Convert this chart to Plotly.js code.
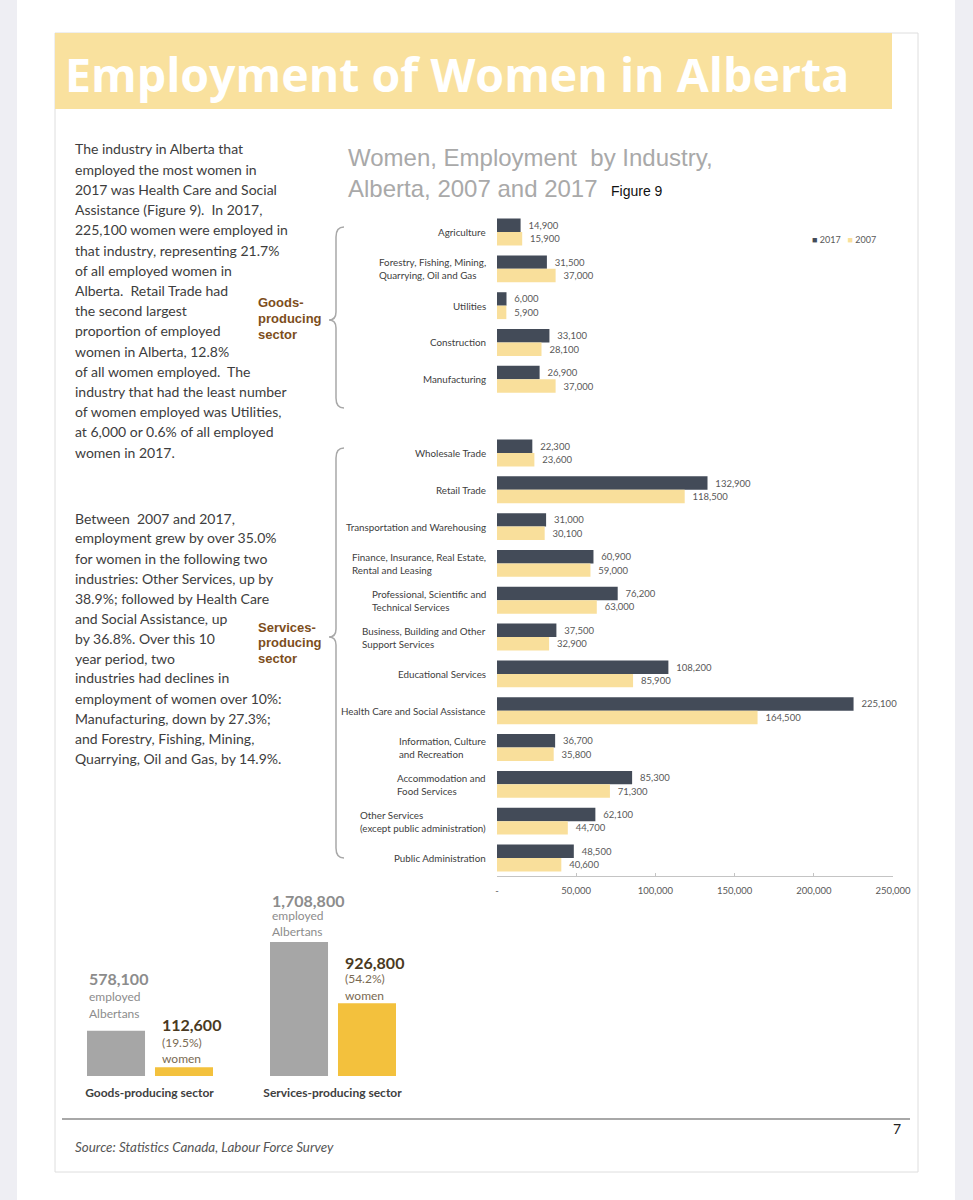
<!DOCTYPE html>
<html><head><meta charset="utf-8">
<script src="https://cdn.plot.ly/plotly-3.0.1.min.js"></script>
<style>html,body{margin:0;padding:0;background:#fff;} #chart{width:973px;height:1200px;}</style>
</head><body><div id="chart"></div>
<script>
// ---------- data ----------
const goodsIndustries = ["Agriculture", "Forestry, Fishing, Mining,<br>Quarrying, Oil and Gas", "Utilities", "Construction", "Manufacturing"];
const servicesIndustries = ["Wholesale Trade", "Retail Trade", "Transportation and Warehousing",
  "Finance, Insurance, Real Estate,<br>Rental and Leasing", "Professional, Scientific and<br>Technical Services",
  "Business, Building and Other<br>Support Services", "Educational Services", "Health Care and Social Assistance",
  "Information, Culture<br>and Recreation", "Accommodation and<br>Food Services",
  "Other Services<br>(except public administration)", "Public Administration"];
const women2017 = [14900, 31500, 6000, 33100, 26900, 22300, 132900, 31000, 60900, 76200, 37500, 108200, 225100, 36700, 85300, 62100, 48500];
const women2007 = [15900, 37000, 5900, 28100, 37000, 23600, 118500, 30100, 59000, 63000, 32900, 85900, 164500, 35800, 71300, 44700, 40600];
const seriesNames = ["2017", "2007"];
const xTickVals = [0, 50000, 100000, 150000, 200000, 250000];
const xTickText = ["-", "50,000", "100,000", "150,000", "200,000", "250,000"];

const sectors = ["Goods-producing sector", "Services-producing sector"];
const employedAll = [578100, 1708800];
const employedWomen = [112600, 926800];
const womenShare = ["19.5%", "54.2%"];

const pageTitle = "Employment of Women in Alberta";
const chartTitleLines = ["Women, Employment  by Industry,", "Alberta, 2007 and 2017"];
const figureLabel = "Figure 9";
const sectorLabels = [["Goods-", "producing", "sector"], ["Services-", "producing", "sector"]];
const para1 = ["The industry in Alberta that", "employed the most women in", "2017 was Health Care and Social",
  "Assistance (Figure 9).  In 2017,", "225,100 women were employed in", "that industry, representing 21.7%",
  "of all employed women in", "Alberta.  Retail Trade had", "the second largest", "proportion of employed",
  "women in Alberta, 12.8%", "of all women employed.  The", "industry that had the least number",
  "of women employed was Utilities,", "at 6,000 or 0.6% of all employed", "women in 2017."];
const para2 = ["Between  2007 and 2017,", "employment grew by over 35.0%", "for women in the following two",
  "industries: Other Services, up by", "38.9%; followed by Health Care", "and Social Assistance, up",
  "by 36.8%. Over this 10", "year period, two", "industries had declines in",
  "employment of women over 10%:", "Manufacturing, down by 27.3%;", "and Forestry, Fishing, Mining,",
  "Quarrying, Oil and Gas, by 14.9%."];
const sourceText = "Source: Statistics Canada, Labour Force Survey";
const pageNumber = "7";

// ---------- helpers ----------
const W = 973, H = 1200;
const px = x => x / W;
const py = y => 1 - y / H;
const industries = goodsIndustries.concat(servicesIndustries);
const spacer = "\u00a0";
const categoryOrder = goodsIndustries.concat([spacer], servicesIndustries);
const fmt = v => v.toLocaleString("en-US");

const DARK = "#434b58", LIGHT = "#f9df9b";
const GRAY_BAR = "#a6a6a6", GOLD_BAR = "#f3c13d";

const traces = [
  {type: "bar", orientation: "h", name: seriesNames[0], y: industries, x: women2017,
   marker: {color: DARK}, xaxis: "x", yaxis: "y",
   texttemplate: "\u00a0\u00a0%{x:,}", textposition: "outside", constraintext: "none", cliponaxis: false,
   textfont: {family: "Lato", size: 9.5, color: "#595959"}, hoverinfo: "none"},
  {type: "bar", orientation: "h", name: seriesNames[1], y: industries, x: women2007,
   marker: {color: LIGHT}, xaxis: "x", yaxis: "y",
   texttemplate: "\u00a0\u00a0%{x:,}", textposition: "outside", constraintext: "none", cliponaxis: false,
   textfont: {family: "Lato", size: 9.5, color: "#595959"}, hoverinfo: "none"},
  {type: "bar", name: "employed Albertans", x: sectors, y: employedAll, xaxis: "x2", yaxis: "y2",
   marker: {color: GRAY_BAR}, width: 0.317, offset: -0.3415, hoverinfo: "none"},
  {type: "bar", name: "women", x: sectors, y: employedWomen, xaxis: "x2", yaxis: "y2",
   marker: {color: GOLD_BAR}, width: 0.317, offset: 0.030, hoverinfo: "none"}
];

const annotations = [];
function addText(text, x, y, opts) {
  annotations.push(Object.assign({text: text, x: px(x), y: py(y), xref: "paper", yref: "paper",
    xanchor: "left", yanchor: "middle", showarrow: false,
    font: {family: "Lato", size: 14, color: "#3d3d3d"}}, opts || {}));
}

// page title
addText("<b>" + pageTitle + "</b>", 63, 74, {font: {family: "Open Sans", size: 46.5, color: "#ffffff"}});
// chart title
chartTitleLines.forEach((t, i) => addText(t, 346, 157 + i * 31, {font: {family: "Liberation Sans", size: 24, color: "#a9a9a9"}}));
addText(figureLabel, 609, 191, {font: {family: "Liberation Sans", size: 14, color: "#111111"}});
// body text
para1.forEach((t, i) => addText(t, 73, 149 + i * 20.2));
para2.forEach((t, i) => addText(t, 73, 518 + i * 20));
// sector labels
const sectorLabelY = [303, 627];
sectorLabels.forEach((lines, s) => lines.forEach((t, i) =>
  addText("<b>" + t + "</b>", 256, sectorLabelY[s] + i * 15.5, {font: {family: "Liberation Sans", size: 13, color: "#7d4e1c"}})));
// legend
addText('<span style="color:' + DARK + '">\u25A0</span>\u00a0' + seriesNames[0] +
  '\u00a0\u00a0\u00a0<span style="color:' + LIGHT + '">\u25A0</span>\u00a0' + seriesNames[1],
  810, 240, {font: {family: "Lato", size: 9, color: "#595959"}});
// industry labels (left aligned blocks, right edge at axis)
industries.forEach(name => annotations.push({text: name, x: 0, y: name, xref: "x", yref: "y",
  xanchor: "right", yanchor: "middle", xshift: -9, align: "left", showarrow: false,
  font: {family: "Lato", size: 9.8, color: "#404040"}}));
// bottom chart labels
const allShifts = [[52, 34, 17], [42, 27, 11]];
const womenShifts = [[43, 25, 9], [41, 25, 8]];
sectors.forEach((sec, i) => {
  const allLines = ["<b>" + fmt(employedAll[i]) + "</b>", "employed", "Albertans"];
  allLines.forEach((t, k) => annotations.push({text: t, x: sec, y: employedAll[i], xref: "x2", yref: "y2",
    xanchor: "left", yanchor: "middle", xshift: -63, yshift: allShifts[i][k], showarrow: false,
    font: {family: "Lato", size: k === 0 ? 16 : 12, color: "#8c8c8c"}}));
  const wLines = ["<b>" + fmt(employedWomen[i]) + "</b>", "(" + womenShare[i] + ")", "women"];
  wLines.forEach((t, k) => annotations.push({text: t, x: sec, y: employedWomen[i], xref: "x2", yref: "y2",
    xanchor: "left", yanchor: "middle", xshift: 10, yshift: womenShifts[i][k], showarrow: false,
    font: {family: "Lato", size: k === 0 ? 16 : 12, color: k === 0 ? "#4a3a22" : "#7a6a52"}}));
});
// footer
addText("<i>" + sourceText + "</i>", 73, 1147, {font: {family: "Lato", size: 13.4, color: "#555555"}});
addText(pageNumber, 903, 1128, {xanchor: "right", font: {family: "Lato", size: 14, color: "#222222"}});

function bracePath(xLine, xTip, xEnd, yTop, yMid, yBot) {
  const P = (x, y) => px(x).toFixed(5) + "," + py(y).toFixed(5);
  return "M " + P(xEnd, yTop) + " Q " + P(xLine, yTop) + " " + P(xLine, yTop + 10) +
    " L " + P(xLine, yMid - 8) + " Q " + P(xLine, yMid) + " " + P(xTip, yMid) +
    " Q " + P(xLine, yMid) + " " + P(xLine, yMid + 8) +
    " L " + P(xLine, yBot - 10) + " Q " + P(xLine, yBot) + " " + P(xEnd, yBot);
}

const shapes = [
  {type: "rect", xref: "paper", yref: "paper", x0: 0, x1: px(17), y0: 0, y1: 1, fillcolor: "#eeeef3", line: {width: 0}, layer: "below"},
  {type: "rect", xref: "paper", yref: "paper", x0: px(955), x1: 1, y0: 0, y1: 1, fillcolor: "#eeeef3", line: {width: 0}, layer: "below"},
  {type: "rect", xref: "paper", yref: "paper", x0: px(55), x1: px(918), y0: py(1172), y1: py(33), fillcolor: "rgba(0,0,0,0)", line: {color: "#dedede", width: 1}, layer: "below"},
  {type: "rect", xref: "paper", yref: "paper", x0: px(55), x1: px(892), y0: py(109), y1: py(33), fillcolor: "#f9e19e", line: {width: 0}, layer: "below"},
  {type: "path", xref: "paper", yref: "paper", path: bracePath(336, 329, 344, 227, 320, 408), line: {color: "#a8a8a8", width: 1.5}},
  {type: "path", xref: "paper", yref: "paper", path: bracePath(336, 329, 344, 448, 637, 858), line: {color: "#a8a8a8", width: 1.5}},
  {type: "line", xref: "paper", yref: "paper", x0: px(62), x1: px(910), y0: py(1119), y1: py(1119), line: {color: "#a8a8a8", width: 2}}
];

const layout = {
  width: W, height: H, autosize: false,
  margin: {l: 0, r: 0, t: 0, b: 0, pad: 0},
  paper_bgcolor: "#ffffff", plot_bgcolor: "rgba(0,0,0,0)",
  font: {family: "Lato", color: "#404040"},
  showlegend: false,
  barmode: "group", bargap: 0.27, bargroupgap: 0,
  xaxis: {domain: [px(497), px(893)], range: [0, 250000], tickvals: xTickVals, ticktext: xTickText,
    showgrid: false, zeroline: false, showline: true, linecolor: "#c4c4c4", linewidth: 1,
    ticks: "inside", ticklen: 3, tickcolor: "#c4c4c4", ticklabelstandoff: 5,
    tickfont: {family: "Lato", size: 9.5, color: "#595959"}, anchor: "y", fixedrange: true},
  yaxis: {domain: [py(876.4), py(213.6)], type: "category", categoryorder: "array", categoryarray: categoryOrder,
    range: [categoryOrder.length - 0.5, -0.5], showticklabels: false, showgrid: false, zeroline: false,
    showline: false, ticks: "", anchor: "x", fixedrange: true},
  xaxis2: {domain: [px(58), px(424)], type: "category", range: [-0.5, 1.5], anchor: "y2",
    showgrid: false, zeroline: false, showline: false, ticks: "", ticklabelstandoff: 8,
    tickfont: {family: "Lato", size: 12, color: "#404040", weight: "bold"}, fixedrange: true},
  yaxis2: {domain: [py(1076), py(930)], range: [0, 1862000], anchor: "x2", visible: false, fixedrange: true},
  annotations: annotations,
  shapes: shapes
};

Plotly.newPlot("chart", traces, layout, {staticPlot: true, displayModeBar: false});
</script>
</body></html>
